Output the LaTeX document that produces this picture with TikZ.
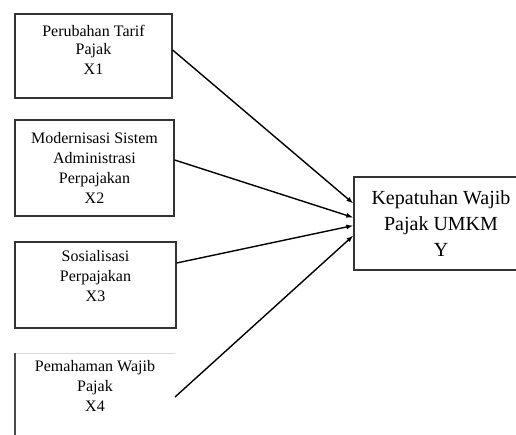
\documentclass[tikz,border=0pt]{standalone}
\usepackage{fontspec}
\setmainfont{Liberation Serif}
\usetikzlibrary{arrows.meta,calc}

\tikzset{
  varbox/.style={draw=black!80, line width=1.3pt, align=center, inner sep=0pt,
    font=\fontsize{16}{20}\selectfont},
  ybox/.style={draw=black!80, line width=1.3pt, align=center, inner sep=0pt,
    font=\fontsize{20}{26}\selectfont},
  link/.style={line width=1.4pt, -{Latex[length=7pt,width=5pt]}}
}

\begin{document}
\begin{tikzpicture}[x=1pt,y=-1pt]

	\useasboundingbox (0,0) rectangle (516,434);

	\node[varbox, minimum width=157pt, minimum height=84pt, text depth=12pt] (x1) at (93.5,56)
    {Perubahan Tarif\\[-2pt]Pajak\\X1};

	\node[varbox, minimum width=159pt, minimum height=96pt] (x2) at (94.5,168)
    {Modernisasi Sistem\\Administrasi\\Perpajakan\\X2};

	\node[varbox, minimum width=161pt, minimum height=86pt, text depth=18pt] (x3) at (95.5,285)
    {Sosialisasi\\Perpajakan\\X3};

	% last box runs off the page
	\node[align=center, font=\fontsize{16}{20}\selectfont] (x4) at (95,386)
    {Pemahaman Wajib\\Pajak\\X4};
	\draw[black!15, line width=1pt] (15,353) -- (175,353);
	\draw[black!70, line width=1.3pt] (15,353) -- (15,440);
	\coordinate (x4out) at (175,397);

	\node[ybox, minimum width=174pt, minimum height=93pt] (y) at (441,223.5)
    {Kepatuhan Wajib\\Pajak UMKM\\Y};

	\draw[link] ([yshift=6pt]x1.east) -- ([yshift=20pt]y.west);
	\draw[link] ([yshift=8pt]x2.east) -- ([yshift=6pt]y.west);
	\draw[link] ([yshift=22pt]x3.east) -- ([yshift=-2pt]y.west);
	\draw[link] (x4out) -- ([yshift=-12pt]y.west);

\end{tikzpicture}
\end{document}
